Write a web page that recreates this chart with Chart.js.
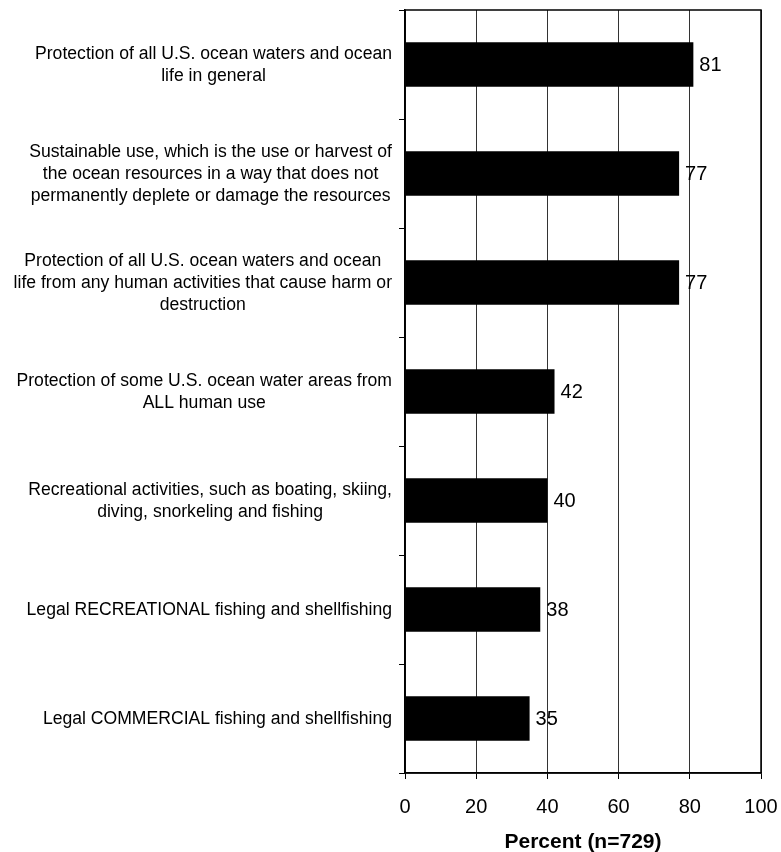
<!DOCTYPE html>
<html>
<head>
<meta charset="utf-8">
<script src="https://cdn.jsdelivr.net/npm/chart.js@4/dist/chart.umd.min.js"></script>
<style>
  html, body { margin: 0; padding: 0; background: #fff; }
  #wrap { width: 781px; height: 852px; }
</style>
</head>
<body>
<div id="wrap"><canvas id="c" width="781" height="852"></canvas></div>
<script>
// Survey items (multi-line labels) and percent of respondents
const categories = [
  ["Protection of all U.S. ocean waters and ocean", "life in general"],
  ["Sustainable use, which is the use or harvest of", "the ocean resources in a way that does not", "permanently deplete or damage the resources"],
  ["Protection of all U.S. ocean waters and ocean", "life from any human activities that cause harm or", "destruction"],
  ["Protection of some U.S. ocean water areas from", "ALL human use"],
  ["Recreational activities, such as boating, skiing,", "diving, snorkeling and fishing"],
  ["Legal RECREATIONAL fishing and shellfishing"],
  ["Legal COMMERCIAL fishing and shellfishing"]
];
const percents = [81, 77, 77, 42, 40, 38, 35];
const xTicks = [0, 20, 40, 60, 80, 100];
const axisTitle = "Percent (n=729)";

const FONT = "'Liberation Sans', Arial, sans-serif";

// Category labels: each block right-aligned to the axis, lines centred within the block
const categoryLabels = {
  id: 'categoryLabels',
  afterDraw(chart) {
    const ctx = chart.ctx;
    const y = chart.scales.y;
    const right = y.right - 13;
    const lineH = 22;
    ctx.save();
    ctx.font = "17.6px " + FONT;
    ctx.fillStyle = "#000";
    ctx.textBaseline = "middle";
    ctx.textAlign = "center";
    categories.forEach((lines, i) => {
      const cy = y.getPixelForValue(i) + 1;
      const w = Math.max(...lines.map(l => ctx.measureText(l).width));
      const cx = right - w / 2;
      const top = cy - (lines.length - 1) * lineH / 2;
      lines.forEach((l, k) => ctx.fillText(l, cx, top + k * lineH));
    });
    ctx.restore();
  }
};

// Value printed just past the end of each bar
const valueLabels = {
  id: 'valueLabels',
  afterDatasetsDraw(chart) {
    const ctx = chart.ctx;
    const meta = chart.getDatasetMeta(0);
    ctx.save();
    ctx.font = "20px " + FONT;
    ctx.fillStyle = "#000";
    ctx.textBaseline = "middle";
    ctx.textAlign = "left";
    meta.data.forEach((bar, i) => {
      ctx.fillText(String(percents[i]), bar.x + 6, bar.y + 1);
    });
    ctx.restore();
  }
};

// Frame around the plotting area
const plotFrame = {
  id: 'plotFrame',
  afterDraw(chart) {
    const a = chart.chartArea;
    const ctx = chart.ctx;
    ctx.save();
    ctx.strokeStyle = "#000";
    ctx.lineWidth = 1.5;
    ctx.strokeRect(a.left, a.top, a.right - a.left, a.bottom - a.top);
    ctx.restore();
  }
};

new Chart(document.getElementById('c'), {
  type: 'bar',
  data: {
    labels: categories.map(l => l.join(' ')),
    datasets: [{
      data: percents,
      backgroundColor: '#000',
      borderWidth: 0,
      categoryPercentage: 1,
      barPercentage: 0.41
    }]
  },
  options: {
    indexAxis: 'y',
    responsive: false,
    animation: false,
    devicePixelRatio: 1,
    layout: { padding: { top: 10, right: 20, left: 0, bottom: 0 } },
    plugins: { legend: { display: false }, tooltip: { enabled: false } },
    scales: {
      x: {
        type: 'linear',
        min: 0, max: 100,
        afterBuildTicks(scale) { scale.ticks = xTicks.map(v => ({ value: v })); },
        afterFit(scale) {
          scale.height = 79;
          scale.paddingLeft = 0;
          scale.paddingRight = 0;
        },
        grid: { color: '#333', lineWidth: 1, tickLength: 6, tickColor: '#000' },
        border: { color: '#000', width: 1.5 },
        ticks: { color: '#000', font: { family: FONT, size: 20 }, padding: 16 },
        title: {
          display: true, text: axisTitle, color: '#000',
          font: { family: FONT, size: 21, weight: 'bold' },
          padding: { top: 4, bottom: -3 }
        }
      },
      y: {
        type: 'category',
        offset: true,
        afterFit(scale) { scale.width = 405; },
        grid: { drawOnChartArea: false, offset: true, tickLength: 6, color: '#000' },
        border: { color: '#000', width: 1.5 },
        ticks: { display: false }
      }
    }
  },
  plugins: [categoryLabels, valueLabels, plotFrame]
});
</script>
</body>
</html>
